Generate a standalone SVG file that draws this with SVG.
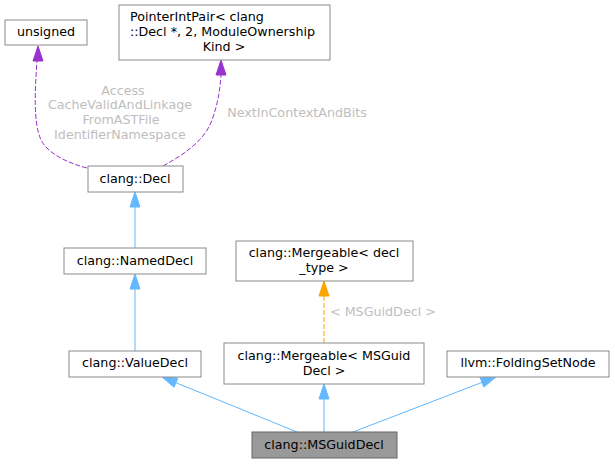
<svg xmlns="http://www.w3.org/2000/svg" width="615" height="464" viewBox="0 0 615 464">
<style>
.box{fill:#ffffff;stroke:#8a8a8a;stroke-width:1}
.cur{fill:#999999;stroke:#666666;stroke-width:1}
text{font-family:"DejaVu Sans",sans-serif;font-size:12.7px;fill:#000000}
.m{text-anchor:middle}
.s{text-anchor:start}
.lbl{fill:#bebebe;text-anchor:middle}
.blue{stroke:#63b8ff;fill:none;stroke-width:1}
.bluef{fill:#63b8ff;stroke:#63b8ff}
.purp{stroke:#9a32cd;fill:none;stroke-width:1;stroke-dasharray:5,2}
.purpf{fill:#9a32cd;stroke:#9a32cd}
.orng{stroke:#ffa500;fill:none;stroke-width:1;stroke-dasharray:5,2}
.orngf{fill:#ffa500;stroke:#ffa500}
</style>
<g id="edges">
  <path class="blue" d="M135,248 L135,207"/>
  <polygon class="bluef" points="135,192 140,207 130,207"/>
  <path class="blue" d="M135,351 L135,289"/>
  <polygon class="bluef" points="135,274 140,289 130,289"/>
  <path class="blue" d="M297,432 L175.9,382.7"/>
  <polygon class="bluef" points="162,377 177.8,378.1 174,387.3"/>
  <path class="blue" d="M324,432 L324,399"/>
  <polygon class="bluef" points="324,384 329,399 319,399"/>
  <path class="blue" d="M353,432 L482,382.4"/>
  <polygon class="bluef" points="496,377 483.8,387.1 480.2,377.7"/>
  <path class="orng" d="M324,343 L324,296"/>
  <polygon class="orngf" points="324,281 329,296 319,296"/>
  <text class="s" x="330" y="316" style="fill:#bebebe">&lt; MSGuidDecl &gt;</text>
  <path class="purp" d="M87,168 C64,162 47,152 41,140 C33,122 35,90 37,61"/>
  <polygon class="purpf" points="38,46 43,61 33,61"/>
  <text class="lbl" x="123" y="95">Access</text>
  <text class="lbl" x="120" y="109">CacheValidAndLinkage</text>
  <text class="lbl" x="121" y="124">FromASTFile</text>
  <text class="lbl" x="120" y="139">IdentifierNamespace</text>
  <path class="purp" d="M163,166 C185,154 205,140 212,120 C218,103 220,90 221,75"/>
  <polygon class="purpf" points="221,60 226,75 216,75"/>
  <text class="lbl" x="297" y="117">NextInContextAndBits</text>
</g>
<g id="node_unsigned">
  <rect class="box" x="5" y="20" width="82" height="25"/>
  <text class="m" x="46" y="36">unsigned</text>
</g>
<g id="node_pointerintpair">
  <rect class="box" x="119" y="5" width="211" height="55"/>
  <text class="s" x="130" y="21">PointerIntPair&lt; clang</text>
  <text class="s" x="130" y="36">::Decl *, 2, ModuleOwnership</text>
  <text class="m" x="224" y="51">Kind &gt;</text>
</g>
<g id="node_decl">
  <rect class="box" x="88" y="166" width="95" height="26"/>
  <text class="m" x="135" y="183">clang::Decl</text>
</g>
<g id="node_nameddecl">
  <rect class="box" x="64" y="248" width="142" height="26"/>
  <text class="m" x="135" y="265">clang::NamedDecl</text>
</g>
<g id="node_valuedecl">
  <rect class="box" x="69" y="351" width="132" height="26"/>
  <text class="m" x="135" y="367">clang::ValueDecl</text>
</g>
<g id="node_mergeable_decltype">
  <rect class="box" x="236" y="241" width="177" height="40"/>
  <text class="m" x="324" y="257">clang::Mergeable&lt; decl</text>
  <text class="m" x="324" y="272">_type &gt;</text>
</g>
<g id="node_mergeable_msguid">
  <rect class="box" x="224" y="343" width="200" height="41"/>
  <text class="m" x="324" y="360">clang::Mergeable&lt; MSGuid</text>
  <text class="m" x="324" y="375">Decl &gt;</text>
</g>
<g id="node_foldingsetnode">
  <rect class="box" x="447" y="351" width="162" height="26"/>
  <text class="m" x="528" y="367">llvm::FoldingSetNode</text>
</g>
<g id="node_msguiddecl">
  <rect class="cur" x="252" y="432" width="145" height="26"/>
  <text class="m" x="324" y="449">clang::MSGuidDecl</text>
</g>
</svg>
